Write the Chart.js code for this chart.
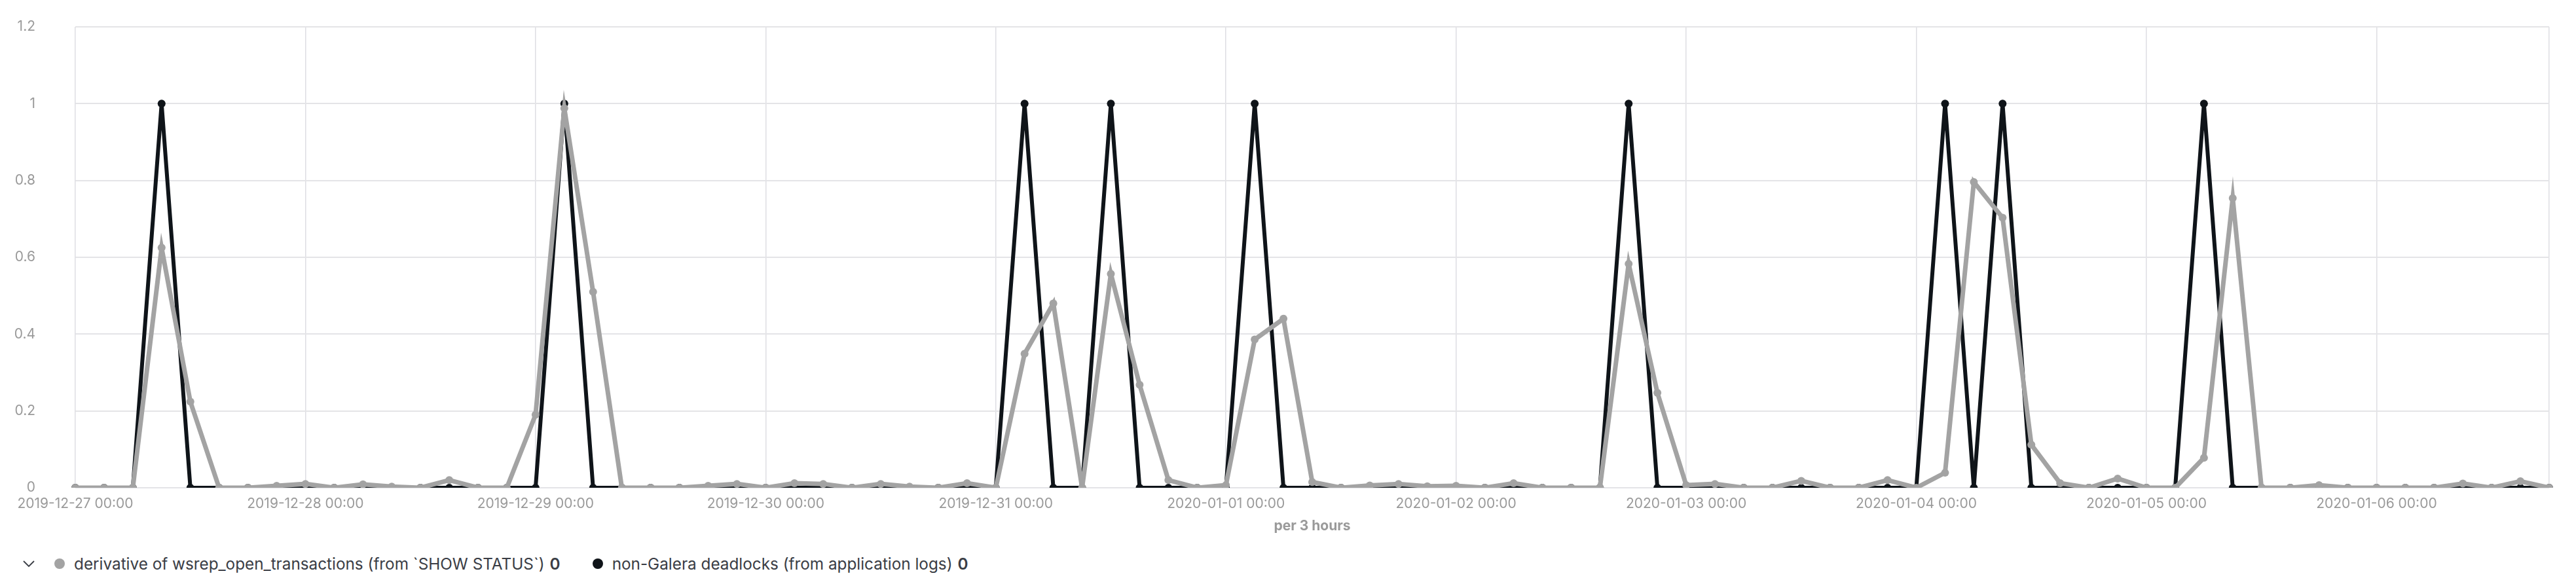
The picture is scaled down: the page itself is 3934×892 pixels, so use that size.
<!DOCTYPE html>
<html>
<head>
<meta charset="utf-8">
<script src="https://cdn.jsdelivr.net/npm/chart.js@4"></script>
<style>
  body { margin: 0; background: #fff; font-family: Inter, sans-serif; }
  #wrap { position: absolute; left: 0; top: 0; width: 3934px; height: 830px; }
  #legend { position: absolute; left: 0; top: 830px; width: 3934px; height: 62px;
            display: flex; align-items: center; font-size: 24.3px; color: #3a3d45; }
  .chev { margin-left: 34px; width: 20px; height: 12px; }
  .item { display: flex; align-items: center; margin-left: 29px; }
  .item + .item { margin-left: 49px; }
  .dot { width: 16px; height: 16px; border-radius: 50%; margin-right: 14px; }
  .item b { font-weight: 600; margin-left: 8px; }
</style>
</head>
<body>
<div id="wrap"><canvas id="chart" width="3934" height="830"></canvas></div>
<div id="legend"></div>
<script>
var colors = {
    gray: '#a3a3a3',
    black: '#0f1419',
    grid: '#e4e4e7',
    tick: '#9a9a9a'
};

// one point every 3 hours, starting 2019-12-27 00:00
var startTime = new Date(2019, 11, 27, 0, 0);
var stepHours = 3;

var seriesNames = [
    'derivative of wsrep_open_transactions (from `SHOW STATUS`)',
    'non-Galera deadlocks (from application logs)'
];
var legendValues = ['0', '0'];

var openTransactions = [
    0, 0, 0, 0.625, 0.224, 0, 0, 0.005, 0.01, 0,
    0.009, 0.003, 0, 0.02, 0, 0, 0.19, 0.988, 0.51, 0,
    0, 0, 0.005, 0.01, 0, 0.012, 0.01, 0, 0.01, 0.003,
    0, 0.012, 0, 0.349, 0.48, 0, 0.557, 0.268, 0.02, 0,
    0.007, 0.386, 0.44, 0.015, 0, 0.006, 0.01, 0.004, 0.005, 0,
    0.012, 0, 0, 0, 0.583, 0.247, 0.007, 0.01, 0, 0,
    0.018, 0, 0, 0.02, 0, 0.039, 0.796, 0.703, 0.112, 0.012,
    0, 0.024, 0, 0, 0.078, 0.754, 0, 0, 0.007, 0,
    0, 0, 0, 0.011, 0, 0.017, 0
];

var deadlocks = [
    0, 0, 0, 1, 0, 0, 0, 0, 0, 0,
    0, 0, 0, 0, 0, 0, 0, 1, 0, 0,
    0, 0, 0, 0, 0, 0, 0, 0, 0, 0,
    0, 0, 0, 1, 0, 0, 1, 0, 0, 0,
    0, 1, 0, 0, 0, 0, 0, 0, 0, 0,
    0, 0, 0, 0, 1, 0, 0, 0, 0, 0,
    0, 0, 0, 0, 0, 1, 0, 1, 0, 0,
    0, 0, 0, 0, 1, 0, 0, 0, 0, 0,
    0, 0, 0, 0, 0, 0, 0
];

var yTicks = { min: 0, max: 1.2, step: 0.2 };

function pad(n) { return n < 10 ? '0' + n : '' + n; }

var labels = [];
for (var i = 0; i < openTransactions.length; i++) {
    var d = new Date(startTime.getTime() + i * stepHours * 3600 * 1000);
    labels.push(d.getFullYear() + '-' + pad(d.getMonth() + 1) + '-' + pad(d.getDate()) +
        ' ' + pad(d.getHours()) + ':' + pad(d.getMinutes()));
}
var lastIndex = labels.length - 1;

function isDayStart(i) { return labels[i] && labels[i].slice(11) === '00:00'; }

var config = {
    type: 'line',
    data: {
        labels: labels,
        datasets: [{
            label: seriesNames[0],
            data: openTransactions,
            borderColor: colors.gray,
            backgroundColor: colors.gray,
            borderWidth: 7,
            pointRadius: 6,
            pointBorderWidth: 0,
            tension: 0,
            fill: false
        }, {
            label: seriesNames[1],
            data: deadlocks,
            borderColor: colors.black,
            backgroundColor: colors.black,
            borderWidth: 6,
            pointRadius: 6,
            pointBorderWidth: 0,
            tension: 0,
            fill: false
        }]
    },
    options: {
        responsive: false,
        animation: false,
        layout: { padding: { top: 41, right: 41, left: 0, bottom: 0 } },
        plugins: {
            legend: { display: false },
            tooltip: { enabled: false }
        },
        scales: {
            x: {
                type: 'category',
                border: { display: false },
                grid: {
                    drawTicks: false,
                    lineWidth: 1.5,
                    color: function(ctx) {
                        return (isDayStart(ctx.index) || ctx.index === lastIndex) ? '#dedee3' : 'rgba(0,0,0,0)';
                    }
                },
                ticks: {
                    autoSkip: false,
                    maxRotation: 0,
                    padding: 12,
                    color: colors.tick,
                    font: { family: 'Inter', size: 21 },
                    callback: function(value, index) {
                        return isDayStart(index) ? labels[index] : '';
                    }
                },
                title: {
                    display: true,
                    text: 'per 3 hours',
                    color: colors.tick,
                    font: { family: 'Inter', size: 21, weight: 'bold' },
                    padding: { top: 0, bottom: 14 }
                },
                afterFit: function(scale) { scale.height = 85; }
            },
            y: {
                min: yTicks.min,
                max: yTicks.max,
                border: { display: false },
                grid: { drawTicks: false, lineWidth: 2, color: colors.grid },
                ticks: {
                    stepSize: yTicks.step,
                    padding: 61,
                    color: colors.tick,
                    font: { family: 'Inter', size: 21 },
                    callback: function(value) {
                        return String(Math.round(value * 10) / 10);
                    }
                },
                afterFit: function(scale) {
                    // keep the label gap from pushing the plot area down
                    scale.width = 115;
                    scale.paddingTop = 0;
                    scale.paddingBottom = 0;
                }
            }
        }
    }
};

window.onload = function() {
    var ctx = document.getElementById('chart').getContext('2d');
    window.lineChart = new Chart(ctx, config);

    // legend below the chart
    var legend = document.getElementById('legend');
    var html = '<svg class="chev" viewBox="0 0 20 12"><polyline points="2,2 10,10 18,2" fill="none" stroke="#3a3d45" stroke-width="1.8"/></svg>';
    config.data.datasets.forEach(function(ds, i) {
        html += '<span class="item"><span class="dot" style="background:' + ds.borderColor + '"></span>' +
            ds.label + '<b>' + legendValues[i] + '</b></span>';
    });
    legend.innerHTML = html;
};
</script>
</body>
</html>
